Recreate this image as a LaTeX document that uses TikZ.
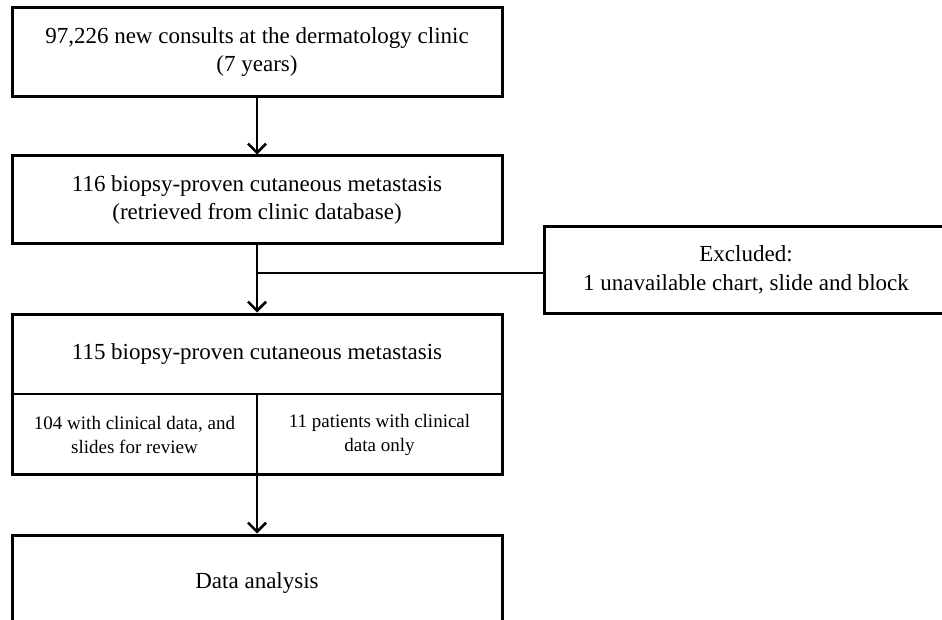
\documentclass[tikz,border=0pt]{standalone}
\usepackage{fontspec}
\setmainfont{Liberation Serif}
\usetikzlibrary{arrows.meta}
\begin{document}
\begin{tikzpicture}[x=1pt,y=-1pt,
  box/.style={draw,line width=3pt,minimum width=490pt,inner sep=0pt,align=center,font=\fontsize{23}{28}\selectfont},
  lbl/.style={inner sep=0pt,align=center},
  small/.style={lbl,font=\fontsize{19}{24}\selectfont},
  conn/.style={line width=2.6pt,-{Straight Barb[length=9pt,width=18pt]}},
  thinline/.style={line width=1.6pt},
  branch/.style={line width=2.2pt},
]
\useasboundingbox (0,0) rectangle (942,620);
\clip (0,0) rectangle (942,620);
\node[box,minimum height=89pt] (b1) at (257,52.5) {97,226 new consults at the dermatology clinic\\(7 years)};
\node[box,minimum height=88pt] (b2) at (257,200) {116 biopsy-proven cutaneous metastasis\\(retrieved from clinic database)};
\node[box,minimum height=160pt] (b3) at (257,394) {};
\node[lbl,font=\fontsize{23}{28}\selectfont] (b3t) at (257,354) {115 biopsy-proven cutaneous metastasis};
\coordinate (d) at (257,394);
\draw[thinline] (b3.west |- d) -- (b3.east |- d);
\draw[thinline] (d) -- (b3.south);
\node[small] (c1) at (134.5,435) {104 with clinical data, and\\slides for review};
\node[small] (c2) at (379.5,435) {11 patients with clinical\\data only};
\node[box,minimum height=95pt] (b4) at (257,582.5) {Data analysis};
\node[box,minimum width=404pt,minimum height=86pt,font=\fontsize{23}{29}\selectfont] (ex) at (746,270) {Excluded:\\1 unavailable chart, slide and block};
\coordinate (br) at (257,273);
\draw[conn] (b1) -- (b2);
\draw[conn] (b2) -- (b3);
\draw[branch] (br) -- (ex.west |- br);
\draw[conn] (b3) -- (b4);
\end{tikzpicture}
\end{document}
